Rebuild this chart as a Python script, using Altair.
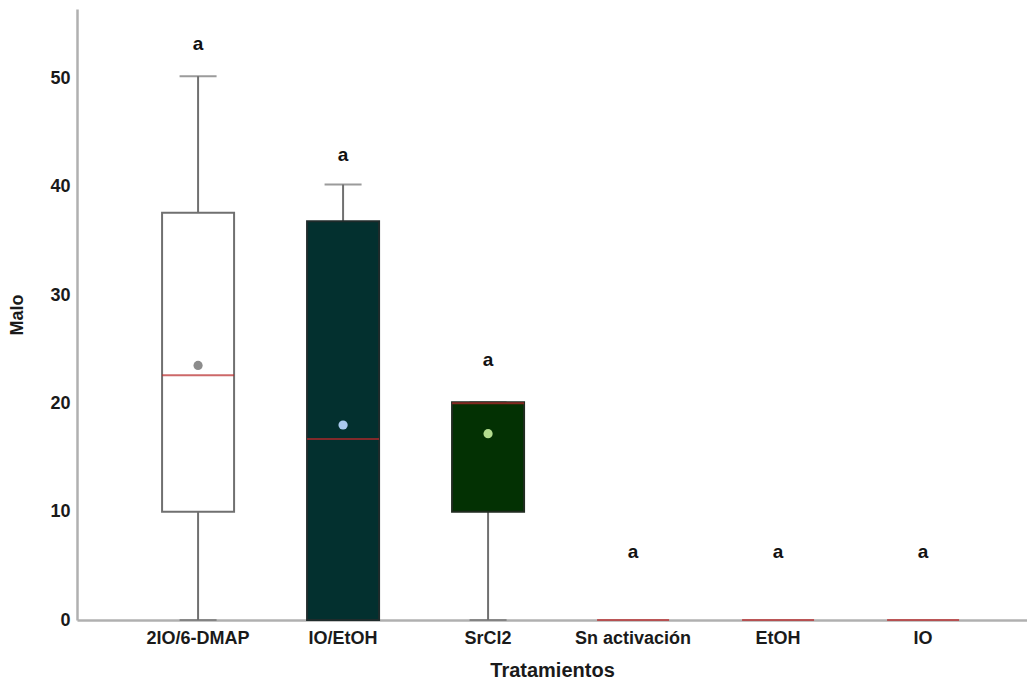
import altair as alt
import pandas as pd

categories = ["2IO/6-DMAP", "IO/EtOH", "SrCl2", "Sn activación", "EtOH", "IO"]
mins = [0, 0, 0, 0, 0, 0]
q1s = [10.0, 0, 10.0, 0, 0, 0]
medians = [22.6, 16.7, 20.0, 0, 0, 0]
q3s = [37.6, 36.8, 20.1, 0, 0, 0]
maxs = [50.2, 40.2, 20.1, 0, 0, 0]
means = [23.5, 18.0, 17.2, 0, 0, 0]
letters = ["a", "a", "a", "a", "a", "a"]
letter_y = [53.2, 42.9, 24.0, 6.3, 6.3, 6.3]
box_fill = ["#ffffff", "#03302f", "#033103", "#ffffff", "#ffffff", "#ffffff"]
box_stroke = ["#707070", "#1f2b2b", "#1f2b1f", "#ffffff", "#ffffff", "#ffffff"]
mean_color = ["#8c8c8c", "#a9c9ee", "#b3dd8f", "#ffffff", "#ffffff", "#ffffff"]

df = pd.DataFrame({
    "cat": categories, "min": mins, "q1": q1s, "med": medians, "q3": q3s,
    "max": maxs, "mean": means, "letter": letters, "ly": letter_y,
    "fill": box_fill, "stroke": box_stroke, "mc": mean_color,
})
nonzero = df[df["max"] > 0]

FONT = "Liberation Sans"
xscale = alt.Scale(domain=categories, paddingInner=0.5034, paddingOuter=0.5276, align=0.556)
yscale = alt.Scale(domain=[0, 56.4], nice=False)
X = alt.X("cat:N", scale=xscale, sort=categories, title="Tratamientos",
          axis=alt.Axis(labelAngle=0, ticks=False, labelPadding=9, domainColor="#b0b0b0",
                        domainWidth=2.5, labelFont=FONT, labelFontSize=18,
                        labelFontWeight="bold", labelColor="#1a1a1a", titleFont=FONT,
                        titleFontSize=20, titleFontWeight="bold", titleColor="#1a1a1a",
                        titlePadding=13))
Y = alt.Y("q1:Q", scale=yscale, title="Malo",
          axis=alt.Axis(values=[0, 10, 20, 30, 40, 50], ticks=False, grid=False, labelPadding=7,
                        domainColor="#b0b0b0", domainWidth=2.5, labelFont=FONT,
                        labelFontSize=18, labelFontWeight="bold", labelColor="#1a1a1a",
                        titleFont=FONT, titleFontSize=18, titleFontWeight="bold",
                        titleColor="#1a1a1a", titlePadding=23))

base = alt.Chart(nonzero)

whisk_up = base.mark_rule(color="#707070", strokeWidth=2).encode(
    x=X, y=alt.Y("q3:Q", scale=yscale), y2="max:Q")
whisk_dn = base.mark_rule(color="#707070", strokeWidth=2).encode(
    x=X, y=alt.Y("min:Q", scale=yscale), y2="q1:Q")
cap_up = base.mark_tick(color="#707070", orient="horizontal", size=37, thickness=2).encode(
    x=X, y=alt.Y("max:Q", scale=yscale))
cap_dn = base.mark_tick(color="#707070", orient="horizontal", size=37, thickness=2).encode(
    x=X, y=alt.Y("min:Q", scale=yscale))
box = base.mark_bar(strokeWidth=2).encode(
    x=X, y=Y, y2="q3:Q",
    fill=alt.Fill("fill:N", scale=None), stroke=alt.Stroke("stroke:N", scale=None))
median = alt.Chart(df).mark_tick(color="#b8282a", orient="horizontal", size=72, thickness=2).encode(
    x=X, y=alt.Y("med:Q", scale=yscale))
mean_pt = base.mark_circle(size=85, opacity=1).encode(
    x=X, y=alt.Y("mean:Q", scale=yscale), color=alt.Color("mc:N", scale=None))
text = alt.Chart(df).mark_text(font=FONT, fontSize=19, fontWeight="bold",
                               color="#111111").encode(
    x=X, y=alt.Y("ly:Q", scale=yscale), text="letter:N")

chart = alt.layer(whisk_up, whisk_dn, cap_up, cap_dn, box, median, mean_pt, text).properties(
    width=950, height=611, padding={"left": 0, "top": 1, "right": 0, "bottom": 0}
).configure_view(stroke=None)

chart.save("out.html", embed_options={"renderer": "svg", "actions": False})
